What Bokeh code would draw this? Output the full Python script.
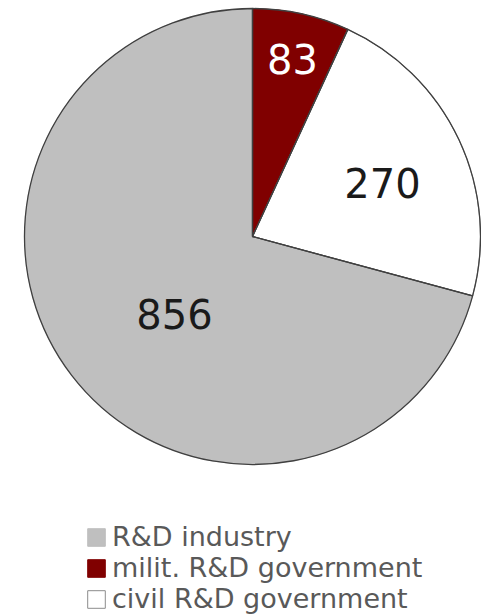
import math
from bokeh.plotting import figure
from bokeh.models import Range1d, ColumnDataSource, Legend, LegendItem
from bokeh.core.properties import value
from bokeh.embed import file_html
from bokeh.resources import INLINE

# ---- data ----
categories = ["milit. R&D government", "civil R&D government", "R&D industry"]
values = [83, 270, 856]
labels = ["83", "270", "856"]

# ---- styles / layout ----
fill_colors = ["#800000", "#ffffff", "#bfbfbf"]
edge_colors = ["#800000", "#8c8c8c", "#bfbfbf"]
label_colors = ["#ffffff", "#1a1a1a", "#1a1a1a"]
label_pos = [(77.2, 0.79), (21.8, 0.614), (225.7, 0.49)]  # (deg, fraction of radius)
legend_order = [2, 0, 1]

W, H = 481, 614
CX, CY, R = 252, 378, 228
FS = 40
LABEL_DY = 2

total = float(sum(values))
starts, ends = [], []
cum = 0.0
for v in values:
    a0 = math.pi / 2 - 2 * math.pi * (cum + v) / total
    a1 = math.pi / 2 - 2 * math.pi * cum / total
    starts.append(a0)
    ends.append(a1)
    cum += v

src = ColumnDataSource(dict(
    x=[CX] * len(values), y=[CY] * len(values),
    start=starts, end=ends, fill=fill_colors, edge=edge_colors,
    cat=categories,
))

p = figure(width=W, height=H, output_backend="svg", toolbar_location=None,
           x_range=Range1d(0, W), y_range=Range1d(0, H), min_border=0,
           tools="")
p.xaxis.visible = False
p.yaxis.visible = False
p.grid.visible = False
p.outline_line_color = None
p.background_fill_color = "white"
p.border_fill_color = "white"

fill_r = p.wedge(x="x", y="y", radius=R, start_angle="start", end_angle="end",
                 fill_color="fill", line_color="edge", line_width=1, source=src)
p.wedge(x="x", y="y", radius=R, start_angle="start", end_angle="end",
        fill_color=None, line_color="#404040", line_width=1.3, source=src)

lx, ly = [], []
for deg, fr in label_pos:
    a = math.radians(deg)
    lx.append(CX + fr * R * math.cos(a))
    ly.append(CY + fr * R * math.sin(a) + LABEL_DY)
lsrc = ColumnDataSource(dict(x=lx, y=ly, t=labels, c=label_colors))
p.text(x="x", y="y", text="t", text_color="c", source=lsrc,
       text_font=value("DejaVu Sans"), text_font_size=f"{FS}px",
       text_align="center", text_baseline="middle")

legend = Legend(
    items=[LegendItem(label=categories[i], renderers=[fill_r], index=i) for i in legend_order],
    location=(85, 0), orientation="vertical",
    label_text_font="DejaVu Sans", label_text_font_size="27px",
    label_text_color="#595959", glyph_width=22, glyph_height=22,
    label_standoff=5, spacing=0, padding=0, margin=0,
    border_line_color=None, background_fill_alpha=0, label_height=31,
)
p.add_layout(legend)

open("out.html", "w").write(file_html(p, INLINE))
